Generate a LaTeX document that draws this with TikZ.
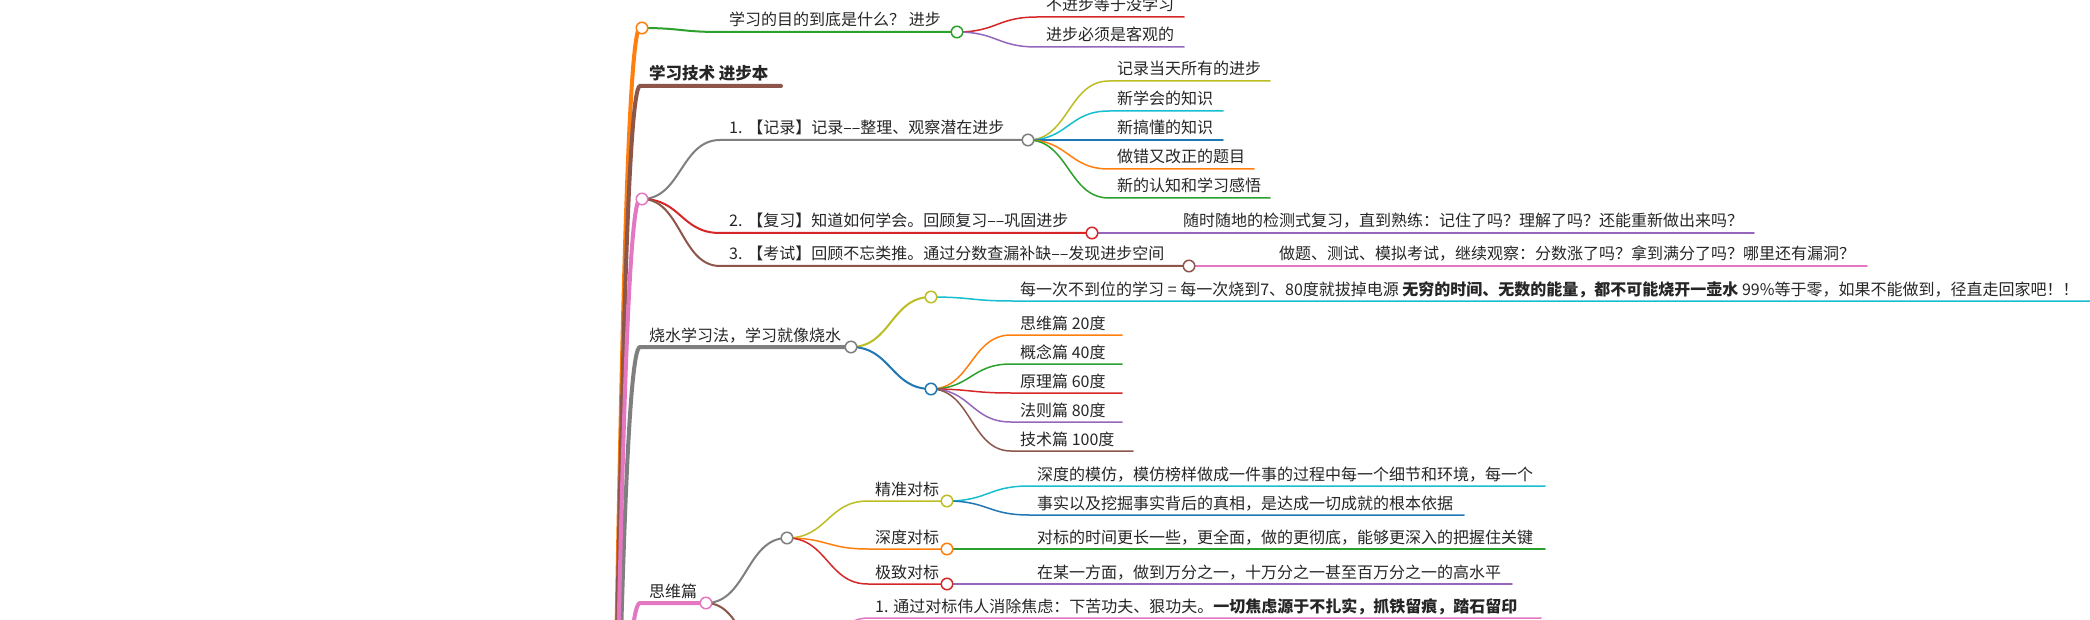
\documentclass[tikz,border=0pt]{standalone}
\usepackage{fontspec}
\setmainfont{Noto Sans CJK SC}
\usetikzlibrary{calc}
\definecolor{cBlue}{HTML}{1F77B4}
\definecolor{cOrange}{HTML}{FF7F0E}
\definecolor{cGreen}{HTML}{2CA02C}
\definecolor{cRed}{HTML}{D62728}
\definecolor{cPurple}{HTML}{9467BD}
\definecolor{cBrown}{HTML}{8C564B}
\definecolor{cPink}{HTML}{E377C2}
\definecolor{cGray}{HTML}{7F7F7F}
\definecolor{cOlive}{HTML}{BCBD22}
\definecolor{cCyan}{HTML}{17BECF}
\definecolor{txtc}{HTML}{262626}
\tikzset{
  mm/.style={to path={let \p1=(\tikztostart), \p2=(\tikztotarget) in
     .. controls ({(\x1+\x2)/2},\y1) and ({(\x1+\x2)/2},\y2) .. (\tikztotarget)}},
  la/.style={line width=4pt, line cap=round},
  lb/.style={line width=2pt, line cap=round},
  lc/.style={line width=1.5pt, line cap=round},
  dot/.style={circle, fill=white, line width=1.5pt, minimum size=11.5pt, inner sep=0pt},
  txt/.style={anchor=base west, inner sep=0pt, text=txtc, font=\fontsize{16}{19}\selectfont},
  ttl/.style={anchor=base west, inner sep=0pt, text=txtc, font=\fontsize{16.5}{20}\selectfont\bfseries},
}
\begin{document}
\begin{tikzpicture}[x=1pt,y=-1pt]
\useasboundingbox (0,0) rectangle (2090,620);
\fill[white] (0,0) rectangle (2090,620);
\begin{scope}
\clip (0,0) rectangle (2090,620);
% ---------- coordinates ----------
\coordinate (root) at (590,1400);
\coordinate (o1s) at (640,28);  \coordinate (o1) at (642,28);
\coordinate (k1s) at (640,86);  \coordinate (k1e) at (781,86);
\coordinate (p1s) at (640,199); \coordinate (p1) at (642,199);
\coordinate (s1s) at (640,347); \coordinate (g3) at (851,347);
\coordinate (w1s) at (640,603); \coordinate (w1) at (706,603);
% level 1
\draw[la,cOrange] (root) to[mm] (o1s) -- (o1);
\draw[la,cBrown]  (root) to[mm] (k1s) -- (k1e);
\draw[la,cGray]   (root) to[mm] (s1s) -- (g3);
\draw[la,cPink]   (root) to[mm] (p1s) -- (p1);
\draw[la,cPink]   (root) to[mm] (w1s) -- (w1);
% ---------- orange branch ----------
\coordinate (g1s) at (720,32); \coordinate (g1) at (957,32);
\draw[lb,cGreen] (o1) to[mm] (g1s) -- (g1);
\coordinate (a1s) at (1037,17); \coordinate (a1e) at (1184,17);
\coordinate (a2s) at (1037,47); \coordinate (a2e) at (1184,47);
\draw[lc,cRed] (g1) to[mm] (a1s) -- (a1e);
\draw[lc,cPurple] (g1) to[mm] (a2s) -- (a2e);
% ---------- pink branch 1 ----------
\coordinate (r1s) at (720,140); \coordinate (g2) at (1028,140);
\coordinate (r2s) at (720,233); \coordinate (r1) at (1092,233);
\coordinate (r3s) at (720,266); \coordinate (b1) at (1189,266);
\draw[lb,cGray]  (p1) to[mm] (r1s) -- (g2);
\draw[lb,cRed]   (p1) to[mm] (r2s) -- (r1);
\draw[lb,cBrown] (p1) to[mm] (r3s) -- (b1);
\coordinate (c1s) at (1109,81);  \coordinate (c1e) at (1270,81);
\coordinate (c2s) at (1109,111); \coordinate (c2e) at (1223,111);
\coordinate (c3s) at (1109,140); \coordinate (c3e) at (1223,140);
\coordinate (c4s) at (1109,169); \coordinate (c4e) at (1254,169);
\coordinate (c5s) at (1109,198); \coordinate (c5e) at (1270,198);
\draw[lc,cOlive]  (g2) to[mm] (c1s) -- (c1e);
\draw[lc,cCyan]   (g2) to[mm] (c2s) -- (c2e);
\draw[lc,cBlue]   (g2) to[mm] (c3s) -- (c3e);
\draw[lc,cOrange] (g2) to[mm] (c4s) -- (c4e);
\draw[lc,cGreen]  (g2) to[mm] (c5s) -- (c5e);
\coordinate (e1s) at (1174,233); \coordinate (e1e) at (1754,233);
\draw[lc,cPurple] (r1) to[mm] (e1s) -- (e1e);
\coordinate (f1s) at (1270,266); \coordinate (f1e) at (1867,266);
\draw[lc,cPink] (b1) to[mm] (f1s) -- (f1e);
% ---------- gray branch ----------
\coordinate (y3) at (931,297); \coordinate (b3) at (931,389);
\draw[lb,cOlive] (g3) to[mm] (y3);
\draw[lb,cBlue]  (g3) to[mm] (b3);
\coordinate (h1s) at (1012,301); \coordinate (h1e) at (2100,301);
\draw[lc,cCyan] (y3) to[mm] (h1s) -- (h1e);
\coordinate (i1s) at (1011,335); \coordinate (i1e) at (1122,335);
\coordinate (i2s) at (1011,364); \coordinate (i2e) at (1122,364);
\coordinate (i3s) at (1011,393); \coordinate (i3e) at (1122,393);
\coordinate (i4s) at (1011,422); \coordinate (i4e) at (1122,422);
\coordinate (i5s) at (1011,451); \coordinate (i5e) at (1133,451);
\draw[lc,cOrange] (b3) to[mm] (i1s) -- (i1e);
\draw[lc,cGreen]  (b3) to[mm] (i2s) -- (i2e);
\draw[lc,cRed]    (b3) to[mm] (i3s) -- (i3e);
\draw[lc,cPurple] (b3) to[mm] (i4s) -- (i4e);
\draw[lc,cBrown]  (b3) to[mm] (i5s) -- (i5e);
% ---------- pink branch 2 ----------
\coordinate (gs) at (787,538); \coordinate (bs) at (787,680);
\draw[lb,cGray]  (w1) to[mm] (gs);
\draw[lb,cBrown] (w1) to[mm] (bs);
\coordinate (d1s) at (868,501); \coordinate (d1) at (947,501);
\coordinate (d2s) at (868,549); \coordinate (d2) at (947,549);
\coordinate (d3s) at (868,584); \coordinate (d3) at (947,584);
\draw[lc,cOlive]  (gs) to[mm] (d1s) -- (d1);
\draw[lc,cOrange] (gs) to[mm] (d2s) -- (d2);
\draw[lc,cRed]    (gs) to[mm] (d3s) -- (d3);
\coordinate (j1s) at (1029,486); \coordinate (j1e) at (1545,486);
\coordinate (j2s) at (1029,515); \coordinate (j2e) at (1464,515);
\coordinate (j3s) at (1029,549); \coordinate (j3e) at (1545,549);
\coordinate (j4s) at (1029,584); \coordinate (j4e) at (1512,584);
\draw[lc,cCyan]   (d1) to[mm] (j1s) -- (j1e);
\draw[lc,cBlue]   (d1) to[mm] (j2s) -- (j2e);
\draw[lc,cGreen]  (d2) to[mm] (j3s) -- (j3e);
\draw[lc,cPurple] (d3) to[mm] (j4s) -- (j4e);
\coordinate (m1s) at (868,618); \coordinate (m1e) at (1541,618);
\draw[lc,cPink] (bs) to[mm] (m1s) -- (m1e);
% ---------- circles ----------
\node[dot,draw=cOrange] (o1c) at (o1) {};
\node[dot,draw=cGreen]  (g1c) at (g1) {};
\node[dot,draw=cPink]   (p1c) at (p1) {};
\node[dot,draw=cGray]   (g2c) at (g2) {};
\node[dot,draw=cRed]    (r1c) at (r1) {};
\node[dot,draw=cBrown]  (b1c) at (b1) {};
\node[dot,draw=cGray]   (g3c) at (g3) {};
\node[dot,draw=cOlive]  (y3c) at (y3) {};
\node[dot,draw=cBlue]   (b3c) at (b3) {};
\node[dot,draw=cPink]   (w1c) at (w1) {};
\node[dot,draw=cGray]   (gsc) at (gs) {};
\node[dot,draw=cOlive]  (d1c) at (d1) {};
\node[dot,draw=cOrange] (d2c) at (d2) {};
\node[dot,draw=cRed]    (d3c) at (d3) {};
% ---------- texts ----------
\node[txt] (t01) at (729,26) {学习的目的到底是什么？ 进步};
\node[txt] (t02) at (1046,11) {不进步等于没学习};
\node[txt] (t03) at (1046,41) {进步必须是客观的};
\node[ttl] (t04) at (649,80) {学习技术 进步本};
\node[txt] (t05) at (729,134) {1. 【记录】记录––整理、观察潜在进步};
\node[txt] (t06) at (1117,75) {记录当天所有的进步};
\node[txt] (t07) at (1117,105) {新学会的知识};
\node[txt] (t08) at (1117,134) {新搞懂的知识};
\node[txt] (t09) at (1117,163) {做错又改正的题目};
\node[txt] (t10) at (1117,192) {新的认知和学习感悟};
\node[txt] (t11) at (729,227) {2. 【复习】知道如何学会。回顾复习––巩固进步};
\node[txt] (t12) at (1183,227) {随时随地的检测式复习，直到熟练：记住了吗？理解了吗？还能重新做出来吗？};
\node[txt] (t13) at (729,260) {3. 【考试】回顾不忘类推。通过分数查漏补缺––发现进步空间};
\node[txt] (t14) at (1279,260) {做题、测试、模拟考试，继续观察：分数涨了吗？拿到满分了吗？哪里还有漏洞？};
\node[txt] (t15) at (649,341) {烧水学习法，学习就像烧水};
\node[txt] (t16) at (1020,295) {每一次不到位的学习 = 每一次烧到7、80度就拔掉电源 \textbf{无穷的时间、无数的能量，都不可能烧开一壶水} 99\%等于零，如果不能做到，径直走回家吧！！};
\node[txt] (t17) at (1020,329) {思维篇 20度};
\node[txt] (t18) at (1020,358) {概念篇 40度};
\node[txt] (t19) at (1020,387) {原理篇 60度};
\node[txt] (t20) at (1020,416) {法则篇 80度};
\node[txt] (t21) at (1020,445) {技术篇 100度};
\node[txt] (t22) at (649,597) {思维篇};
\node[txt] (t23) at (875,495) {精准对标};
\node[txt] (t24) at (875,543) {深度对标};
\node[txt] (t25) at (875,578) {极致对标};
\node[txt] (t26) at (1037,480) {深度的模仿，模仿榜样做成一件事的过程中每一个细节和环境，每一个};
\node[txt] (t27) at (1037,509) {事实以及挖掘事实背后的真相，是达成一切成就的根本依据};
\node[txt] (t28) at (1037,543) {对标的时间更长一些，更全面，做的更彻底，能够更深入的把握住关键};
\node[txt] (t29) at (1037,578) {在某一方面，做到万分之一，十万分之一甚至百万分之一的高水平};
\node[txt] (t30) at (875,612) {1. 通过对标伟人消除焦虑：下苦功夫、狠功夫。\textbf{一切焦虑源于不扎实，抓铁留痕，踏石留印}};
\end{scope}
\end{tikzpicture}
\end{document}
